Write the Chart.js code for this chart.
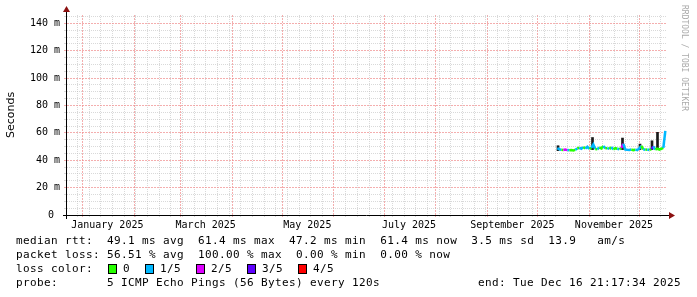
<!DOCTYPE html>
<html lang="en">
<head>
<meta charset="UTF-8">
<title>Smokeping - last 360 days</title>
<script src="https://cdn.jsdelivr.net/npm/chart.js@4.4.1/dist/chart.umd.min.js"></script>
<style>
  body { margin: 0; background: #fff; }
  canvas { display: block; }
</style>
</head>
<body>
<canvas id="ping" width="697" height="297"></canvas>
<script>
// x values are days counted from 1 Jan 2025
var sampleDays = [285.0, 286.2, 287.4, 288.6, 289.8, 291.0, 292.2, 293.4, 294.6, 295.8,
                  297.0, 298.2, 299.4, 300.6, 301.8, 303.0, 304.2, 305.4, 306.6, 307.8,
                  309.0, 310.2, 311.4, 312.6, 313.8, 315.0, 316.2, 317.4, 318.6, 319.8,
                  321.0, 322.2, 323.4, 324.6, 325.8, 327.0, 328.2, 329.4, 330.6, 331.8,
                  333.0, 334.2, 335.4, 336.6, 337.8, 339.0, 340.2, 341.4, 342.6, 343.8,
                  345.0, 346.2, 347.4, 348.6, 349.8];
// median rtt in ms
var medianMs = [48.8, 48.0, 47.6, 47.5, 47.8, 47.4, 47.3, 47.5, 47.2, 47.6,
                48.6, 49.2, 48.4, 49.6, 48.5, 49.8, 48.3, 49.0, 51.5, 48.2,
                48.0, 49.4, 48.6, 50.4, 48.5, 49.0, 48.2, 49.5, 48.0, 48.8,
                48.4, 48.0, 49.0, 52.0, 47.8, 47.6, 47.5, 47.8, 47.4, 47.6,
                47.5, 48.6, 50.5, 48.0, 47.6, 47.8, 47.5, 48.2, 50.0, 47.8,
                48.5, 47.8, 48.4, 49.0, 61.4];
// lost pings out of 5
var lossLevel = [1, 1, 1, 0, 2, 2, 1, 0, 0, 0,
                 1, 0, 1, 1, 0, 1, 1, 0, 1, 1,
                 0, 1, 0, 0, 1, 0, 1, 0, 1, 0,
                 0, 1, 0, 2, 1, 1, 1, 1, 0, 0,
                 1, 1, 1, 0, 1, 0, 1, 0, 3, 1,
                 0, 0, 0, 0, 1];
// smoke spikes (ms)
var smokeDays = [285.4, 306.1, 324.1, 334.6, 341.8, 345.1];
var smokeLow  = [47.0, 47.8, 47.8, 47.8, 47.8, 47.8];
var smokeHigh = [50.6, 56.6, 56.2, 51.8, 54.2, 60.4];

var lossNames  = ['0', '1/5', '2/5', '3/5', '4/5'];
var lossColors = ['#26ff00', '#00b8ff', '#dd00ff', '#5e00ff', '#ff0000'];

var monthStarts = [0, 31, 59, 90, 120, 151, 181, 212, 243, 273, 304, 334];
var xLabels    = ['January 2025', 'March 2025', 'May 2025', 'July 2025', 'September 2025', 'November 2025'];
var xLabelDays = [15, 74, 135, 196, 258, 319];

var rttLine  = 'median rtt:  49.1 ms avg  61.4 ms max  47.2 ms min  61.4 ms now  3.5 ms sd  13.9   am/s';
var lossLine = 'packet loss: 56.51 % avg  100.00 % max  0.00 % min  0.00 % now';
var probeText = '5 ICMP Echo Pings (56 Bytes) every 120s';
var endText = 'end: Tue Dec 16 21:17:34 2025';

var xMin = -9.2, xMax = 350.8;

// grid ticks: weekly (sundays), month starts, and label positions
var xTicks = [];
for (var d = -3; d < xMax; d += 7) {
  if (monthStarts.indexOf(d) < 0) xTicks.push({ value: d, kind: 'minor' });
}
monthStarts.forEach(function (m) { xTicks.push({ value: m, kind: 'major' }); });
xLabelDays.forEach(function (d, i) { xTicks.push({ value: d, kind: 'label', name: xLabels[i] }); });
xTicks.sort(function (a, b) { return a.value - b.value; });

var MAJOR = 'rgba(240,140,140,0.7)';
var MINOR = 'rgba(185,185,185,0.55)';
var AXIS_FONT = { family: '"DejaVu Sans Mono", monospace', size: 10 };

function gridDash(c) {
  return c.tick && (c.tick.kind === 'major' || (c.tick.value % 20 === 0 && c.scale.axis === 'y')) ? [2, 1] : [1, 1];
}

var rrdChrome = {
  id: 'rrdChrome',
  afterDraw: function (chart) {
    var ctx = chart.ctx, a = chart.chartArea;
    ctx.save();
    // axes
    ctx.strokeStyle = '#000';
    ctx.lineWidth = 1;
    ctx.beginPath();
    ctx.moveTo(a.left - 4, a.bottom + 0.5);
    ctx.lineTo(a.right + 3, a.bottom + 0.5);
    ctx.moveTo(a.left - 0.5, a.bottom + 4);
    ctx.lineTo(a.left - 0.5, a.top - 3);
    ctx.stroke();
    // arrow heads
    ctx.fillStyle = '#8b1010';
    ctx.beginPath();
    ctx.moveTo(a.right + 2, a.bottom - 3);
    ctx.lineTo(a.right + 8, a.bottom + 0.5);
    ctx.lineTo(a.right + 2, a.bottom + 4);
    ctx.closePath();
    ctx.fill();
    ctx.beginPath();
    ctx.moveTo(a.left - 4, a.top - 3);
    ctx.lineTo(a.left - 0.5, a.top - 9);
    ctx.lineTo(a.left + 3, a.top - 3);
    ctx.closePath();
    ctx.fill();

    // unit label
    ctx.fillStyle = '#000';
    ctx.font = '11px "DejaVu Sans", sans-serif';
    ctx.textAlign = 'center';
    ctx.textBaseline = 'middle';
    ctx.save();
    ctx.translate(11, (a.top + a.bottom) / 2);
    ctx.rotate(-Math.PI / 2);
    ctx.fillText('Seconds', 0, 0);
    ctx.restore();

    // watermark
    ctx.save();
    ctx.fillStyle = '#aaaaaa';
    ctx.font = '8px "DejaVu Sans Mono", monospace';
    ctx.textAlign = 'left';
    ctx.translate(684, 5);
    ctx.rotate(Math.PI / 2);
    ctx.fillText('RRDTOOL / TOBI OETIKER', 0, 0);
    ctx.restore();

    // legend block
    ctx.font = '11px "DejaVu Sans Mono", monospace';
    ctx.letterSpacing = '0.38px';
    ctx.textAlign = 'left';
    ctx.fillStyle = '#000';
    ctx.fillText(rttLine, 16, 241);
    ctx.fillText(lossLine, 16, 255);
    ctx.fillText('loss color:', 16, 269);
    var boxX = [108, 145, 196, 247, 298];
    lossNames.forEach(function (n, i) {
      ctx.fillStyle = lossColors[i];
      ctx.fillRect(boxX[i], 264, 8, 9);
      ctx.strokeStyle = '#000';
      ctx.strokeRect(boxX[i] + 0.5, 264.5, 8, 9);
      ctx.fillStyle = '#000';
      ctx.fillText(n, boxX[i] + 15, 269);
    });
    ctx.fillText('probe:', 16, 283);
    ctx.fillText(probeText, 107, 283);
    ctx.textAlign = 'right';
    ctx.fillText(endText, 681, 283);
    ctx.restore();
  }
};

new Chart(document.getElementById('ping'), {
  type: 'line',
  data: {
    datasets: [
      {
        type: 'line',
        label: 'median rtt',
        data: sampleDays.map(function (d, i) { return { x: d, y: medianMs[i] }; }),
        borderWidth: 2.5,
        pointRadius: 0,
        tension: 0,
        order: 0,
        borderColor: lossColors[1],
        segment: {
          borderColor: function (c) { return lossColors[lossLevel[c.p1DataIndex]]; }
        }
      },
      {
        type: 'bar',
        label: 'smoke',
        data: smokeDays.map(function (d, i) { return { x: d, y: [smokeLow[i], smokeHigh[i]] }; }),
        backgroundColor: '#1a1a1a',
        barThickness: 2,
        grouped: false,
        order: 1
      }
    ]
  },
  options: {
    responsive: false,
    animation: false,
    devicePixelRatio: 1,
    layout: { padding: { left: 0, top: 15, right: 30, bottom: 0 } },
    plugins: { legend: { display: false }, tooltip: { enabled: false } },
    scales: {
      x: {
        type: 'linear',
        min: xMin,
        max: xMax,
        offset: false,
        afterFit: function (s) { s.height = 82; },
        afterBuildTicks: function (s) {
          s.ticks = xTicks.map(function (t) { return Object.assign({}, t); });
        },
        border: { display: false, dash: gridDash },
        grid: {
          offset: false,
          drawTicks: true,
          tickLength: 2,
          lineWidth: 1,
          color: function (c) {
            if (!c.tick) return MINOR;
            if (c.tick.kind === 'major') return MAJOR;
            if (c.tick.kind === 'label') return 'rgba(0,0,0,0)';
            return MINOR;
          }
        },
        ticks: {
          autoSkip: false,
          maxRotation: 0,
          padding: 2,
          color: '#000',
          font: AXIS_FONT,
          callback: function (v, i, ticks) { return ticks[i].kind === 'label' ? ticks[i].name : ''; }
        }
      },
      y: {
        min: 0,
        max: 146.1,
        afterFit: function (s) { s.width = 67; },
        border: { display: false, dash: gridDash },
        grid: {
          drawTicks: true,
          tickLength: 3,
          color: function (c) {
            var v = c.tick ? c.tick.value : 1;
            if (v === 0) return 'rgba(0,0,0,0)';
            return v % 20 === 0 ? MAJOR : MINOR;
          }
        },
        ticks: {
          stepSize: 5,
          includeBounds: false,
          autoSkip: false,
          padding: 4,
          color: '#000',
          font: AXIS_FONT,
          callback: function (v) {
            if (v === 0) return '0 ';
            return v % 20 === 0 ? v + ' m' : '';
          }
        }
      }
    }
  },
  plugins: [rrdChrome]
});
</script>
</body>
</html>
